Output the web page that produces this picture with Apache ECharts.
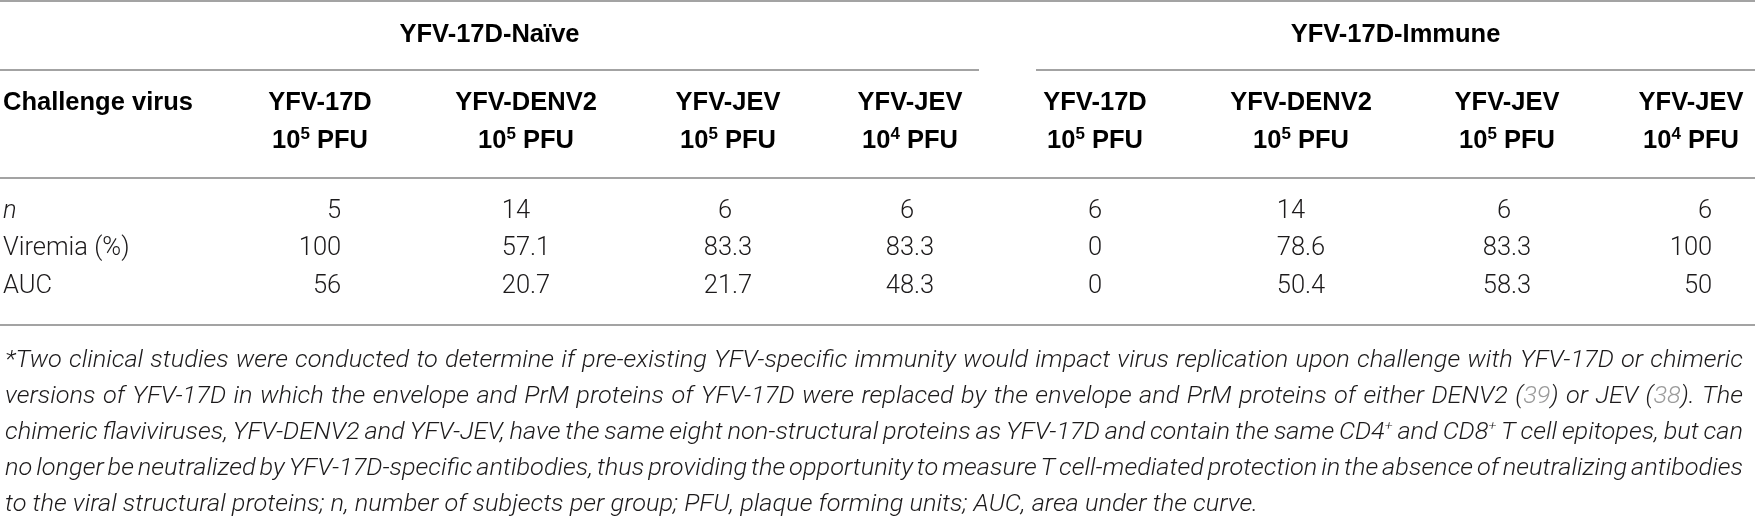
<!DOCTYPE html>
<html>
<head>
<meta charset="utf-8">
<script src="https://cdn.jsdelivr.net/npm/echarts@6/dist/echarts.min.js"></script>
<style>
  html, body { margin: 0; padding: 0; background: #fff; }
  #main { width: 1755px; height: 525px; }
</style>
</head>
<body>
<div id="main"></div>
<script>
// ---- table values ----
var groupTitles = ['YFV-17D-Naïve', 'YFV-17D-Immune'];
var challengeViruses = ['YFV-17D', 'YFV-DENV2', 'YFV-JEV', 'YFV-JEV', 'YFV-17D', 'YFV-DENV2', 'YFV-JEV', 'YFV-JEV'];
var doseExponents = ['5', '5', '5', '4', '5', '5', '5', '4'];
var rowLabels = ['n', 'Viremia (%)', 'AUC'];
var subjectsN = ['5', '14', '6', '6', '6', '14', '6', '6'];
var viremiaPct = ['100', '57.1', '83.3', '83.3', '0', '78.6', '83.3', '100'];
var aucValues = ['56', '20.7', '21.7', '48.3', '0', '50.4', '58.3', '50'];
// {g|..} grey reference number, {s|..} superscript
var footnoteLines = [
  '*Two clinical studies were conducted to determine if pre-existing YFV-specific immunity would impact virus replication upon challenge with YFV-17D or chimeric',
  'versions of YFV-17D in which the envelope and PrM proteins of YFV-17D were replaced by the envelope and PrM proteins of either DENV2 ({g|39}) or JEV ({g|38}). The',
  'chimeric flaviviruses, YFV-DENV2 and YFV-JEV, have the same eight non-structural proteins as YFV-17D and contain the same CD4{s|+} and CD8{s|+} T cell epitopes, but can',
  'no longer be neutralized by YFV-17D-specific antibodies, thus providing the opportunity to measure T cell-mediated protection in the absence of neutralizing antibodies',
  'to the viral structural proteins; n, number of subjects per group; PFU, plaque forming units; AUC, area under the curve.'
];

// ---- layout (pixels of the 1755x525 page) ----
var W = 1755, H = 525;
var colX = [320, 526, 728, 910, 1095, 1301, 1507, 1691];
var groupSpans = [[0, 979], [1036, 1755]];
var labelX = 3;
var yTitle = 35, yVirus = 103, yDose = 141;
var yRows = [212, 249, 287];
var yNotes = [361, 397, 433, 469, 505];
var noteLeft = 5, noteRight = 1743, lastLineEnd = 1258;
var rules = [[0, W, 1], [groupSpans[0][0], groupSpans[0][1], 70], [groupSpans[1][0], groupSpans[1][1], 70], [0, W, 178], [0, W, 325]];

var headFont = { fontFamily: 'Liberation Sans', fontWeight: 'bold', fontSize: 25.5 };
var bodyFont = { fontFamily: 'Roboto', fontWeight: 300, fontSize: 25.5 };
var noteFont = { fontFamily: 'Roboto', fontWeight: 300, fontStyle: 'italic', fontSize: 23 };
var noteSup = { fontFamily: 'Roboto', fontWeight: 300, fontStyle: 'italic', fontSize: 13, verticalAlign: 'top', lineHeight: 13 };
var textColor = '#1c1a1b', ruleColor = '#a3a3a3', refColor = '#9b9b9b';

var ctx = document.createElement('canvas').getContext('2d');
function textW(t, f) {
  ctx.font = (f.fontStyle || 'normal') + ' ' + (f.fontWeight || 'normal') + ' ' + f.fontSize + 'px ' + f.fontFamily;
  return ctx.measureText(t).width;
}
function wordW(word) {
  var re = /\{(\w+)\|([^}]*)\}/g, last = 0, m, w = 0;
  while ((m = re.exec(word))) {
    w += textW(word.slice(last, m.index), noteFont);
    w += textW(m[2], m[1] === 's' ? noteSup : noteFont);
    last = re.lastIndex;
  }
  return w + textW(word.slice(last), noteFont);
}
// horizontal stretch of the footnote face so the short last line ends where it does in print
var lastWords = footnoteLines[footnoteLines.length - 1].split(' ');
var noteScale = (lastLineEnd - noteLeft) /
  (lastWords.map(wordW).reduce(function (s, w) { return s + w; }, 0) + textW(' ', noteFont) * (lastWords.length - 1));

// ---- cells ----
var cells = [];
groupTitles.forEach(function (t, i) {
  cells.push({ x: (groupSpans[i][0] + groupSpans[i][1]) / 2, y: yTitle, text: t, font: headFont, align: 'center', color: '#000' });
});
cells.push({ x: labelX, y: yVirus, text: 'Challenge virus', font: headFont, align: 'left', color: '#000' });
challengeViruses.forEach(function (v, i) {
  cells.push({ x: colX[i], y: yVirus, text: v, font: headFont, align: 'center', color: '#000' });
  cells.push({
    x: colX[i], y: yDose, text: '10{s|' + doseExponents[i] + '} PFU', font: headFont, align: 'center', color: '#000',
    lineHeight: 30,
    rich: { s: { fontFamily: 'Liberation Sans', fontWeight: 'bold', fontSize: 17, verticalAlign: 'top', lineHeight: 18, fill: '#000' } }
  });
});
rowLabels.forEach(function (t, r) {
  var f = r === 0 ? Object.assign({}, bodyFont, { fontStyle: 'italic' }) : bodyFont;
  cells.push({ x: labelX, y: yRows[r], text: t, font: f, align: 'left', color: textColor });
});
var dataRows = [subjectsN, viremiaPct, aucValues];
colX.forEach(function (cx, c) {
  var vals = dataRows.map(function (r) { return r[c]; });
  var ints = vals.map(function (v) { return v.split('.')[0]; });
  var fracs = vals.map(function (v) { return v.indexOf('.') >= 0 ? v.slice(v.indexOf('.')) : ''; });
  var wi = Math.max.apply(null, ints.map(function (t) { return textW(t, bodyFont); }));
  var wf = Math.max.apply(null, fracs.map(function (t) { return t ? textW(t, bodyFont) : 0; }));
  var anchor = cx - (wi + wf) / 2 + wi;   // decimal-point alignment
  vals.forEach(function (v, r) {
    cells.push({ x: anchor - textW(ints[r], bodyFont), y: yRows[r], text: v, font: bodyFont, align: 'left', color: textColor });
  });
});

function renderRule(params, api) {
  var a = api.coord([api.value(0), api.value(2)]);
  var b = api.coord([api.value(1), api.value(2)]);
  return { type: 'line', shape: { x1: a[0], y1: a[1], x2: b[0], y2: b[1] }, style: { stroke: ruleColor, lineWidth: 2 } };
}

function renderCell(params, api) {
  var c = cells[params.dataIndex];
  var p = api.coord([api.value(0), api.value(1)]);
  var style = Object.assign({
    text: c.text, fill: c.color, align: c.align, textAlign: c.align,
    verticalAlign: 'middle', textVerticalAlign: 'middle'
  }, c.font);
  if (c.rich) style.rich = c.rich;
  if (c.lineHeight) style.lineHeight = c.lineHeight;
  return { type: 'text', x: p[0], y: p[1], style: style };
}

function renderNote(params, api) {
  var i = params.dataIndex;
  var words = footnoteLines[i].split(' ');
  var ws = words.map(function (w) { return wordW(w) * noteScale; });
  var total = ws.reduce(function (s, w) { return s + w; }, 0);
  var gap = i < footnoteLines.length - 1 ? (noteRight - noteLeft - total) / (words.length - 1) : textW(' ', noteFont) * noteScale;
  var x = api.value(0), children = [];
  words.forEach(function (w, k) {
    var p = api.coord([x, api.value(1)]);
    children.push({
      type: 'text', x: p[0], y: p[1], scaleX: noteScale,
      style: Object.assign({
        text: w, fill: textColor, align: 'left', textAlign: 'left',
        verticalAlign: 'middle', textVerticalAlign: 'middle', lineHeight: 26,
        rich: {
          g: Object.assign({ fill: refColor, lineHeight: 26 }, noteFont),
          s: Object.assign({ fill: textColor }, noteSup)
        }
      }, noteFont)
    });
    x += ws[k] + gap;
  });
  return { type: 'group', children: children };
}

var myTable = echarts.init(document.getElementById('main'));
var option = {
  animation: false,
  grid: { left: 0, right: 0, top: 0, bottom: 0 },
  xAxis: { type: 'value', min: 0, max: W, show: false },
  yAxis: { type: 'value', min: 0, max: H, inverse: true, show: false },
  series: [
    { type: 'custom', silent: true, renderItem: renderRule, data: rules },
    { type: 'custom', silent: true, renderItem: renderCell, data: cells.map(function (c) { return [c.x, c.y]; }) },
    { type: 'custom', silent: true, renderItem: renderNote, data: yNotes.map(function (y) { return [noteLeft, y]; }) }
  ]
};
myTable.setOption(option);
window.onresize = function () {
  myTable.resize();
};
</script>
</body>
</html>
